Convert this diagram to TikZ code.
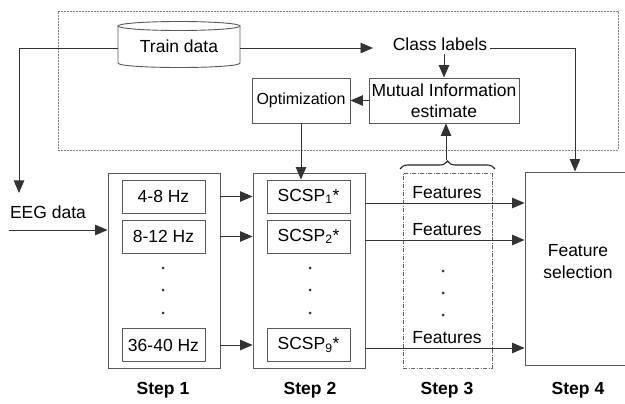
\documentclass[tikz,border=0pt]{standalone}
\usepackage{fontspec}
\setmainfont{Liberation Sans}
\usetikzlibrary{arrows.meta,decorations.pathreplacing,calc}
\begin{document}
\begin{tikzpicture}[x=1pt,y=-1pt,
  font=\fontsize{17.5}{21}\selectfont,
  ln/.style={draw=black!80, line width=0.9pt},
  arr/.style={ln, -{Triangle[length=12.5pt,width=10.5pt]}},
  bx/.style={draw=black!65, line width=0.9pt, inner sep=0pt},
  dotm/.style={fill=black!80},
  steplbl/.style={font=\fontsize{17.5}{21}\selectfont\bfseries}]
\clip (0,0) rectangle (625,404);
\fill[white] (0,0) rectangle (625,404);

% outer dashed region
\node[draw=black!50, line width=0.7pt, dash pattern=on 2pt off 1pt,
      minimum width=560, minimum height=139, inner sep=0pt] (outer) at (338,80.5) {};

% Train data cylinder
\node[minimum width=122, minimum height=46, inner sep=0pt] (train) at (179,46) {Train data};
\draw[black!65, line width=0.9pt] (179,26) ellipse [x radius=61, y radius=4.5];
\draw[black!65, line width=0.9pt] (118,26) -- (118,63) .. controls (118,69) and (240,69) .. (240,63) -- (240,26);

% Class labels
\node[inner sep=3pt] (cls) at (440,44) {Class labels};

% Mutual information and optimization
\node[bx, minimum width=150, minimum height=45, align=center] (mi) at (444,100.5) {Mutual Information\\estimate};
\node[bx, minimum width=98, minimum height=45, font=\fontsize{16}{19}\selectfont] (opt) at (301,100.5) {Optimization};

% Step 1
\node[bx, minimum width=112, minimum height=195] (s1) at (164,270.5) {};
\node[bx, minimum width=83, minimum height=33] (f1) at (163.5,196.5) {4-8 Hz};
\node[bx, minimum width=83, minimum height=33] (f2) at (163.5,236.5) {8-12 Hz};
\node[bx, minimum width=83, minimum height=33] (f9) at (163.5,345) {36-40 Hz};
\fill[dotm] (163,268) circle (1.5) (163,290) circle (1.5) (163,313) circle (1.5);

% Step 2
\node[bx, minimum width=112, minimum height=195] (s2) at (309,270.5) {};
\node[bx, minimum width=83, minimum height=33] (sc1) at (308.5,196.5) {SCSP\textsubscript{1}*};
\node[bx, minimum width=83, minimum height=33] (sc2) at (308.5,236.5) {SCSP\textsubscript{2}*};
\node[bx, minimum width=83, minimum height=33] (sc9) at (308.5,345) {SCSP\textsubscript{9}*};
\fill[dotm] (310,268) circle (1.5) (310,290) circle (1.5) (310,313) circle (1.5);

% Step 3
\node[draw=black!60, line width=0.8pt, dash pattern=on 4pt off 1.5pt on 1pt off 1.5pt,
      minimum width=89, minimum height=195, inner sep=0pt] (s3) at (447.5,270.5) {};
\node[anchor=south, inner sep=4pt] (ft1) at (447,203) {Features};
\node[anchor=south, inner sep=4pt] (ft2) at (447,240) {Features};
\node[anchor=south, inner sep=4pt] (ft9) at (447,348) {Features};
\fill[dotm] (443,271) circle (1.5) (443,293) circle (1.5) (443,315) circle (1.5);

% Step 4
\node[bx, minimum width=106, minimum height=193] (fs) at (578,268.5) {};
\node[align=center, font=\fontsize{17.5}{22}\selectfont] (fstext) at (578,262) {Feature\\selection};

% EEG data
\node (eeg) at (48,212) {EEG data};

% coordinates
\coordinate (c1) at (19,48);
\coordinate (c2) at (19,193);
\coordinate (c3) at (9,230);
\coordinate (c4) at (575,48);
\coordinate (ca) at (373,48);
\coordinate (bt) at (446,160);

% connectors
\draw[arr] (train.west |- c1) -- (c1) -- (c2);
\draw[arr] (c3) -- (c3 -| s1.west);
\draw[arr] (train.east |- ca) -- (ca);
\draw[arr] (cls.east |- c4) -- (c4) -- (c4 |- fs.north);
\draw[arr] (mi.north |- cls.south) -- (mi.north);
\draw[arr] (mi.west) -- (opt.east);
\draw[arr] (opt.south) -- (opt.south |- sc1.north);

\draw[arr] (f1.east -| s1.east) -- (f1.east -| s2.west);
\draw[arr] (f2.east -| s1.east) -- (f2.east -| s2.west);
\draw[arr] (f9.east -| s1.east) -- (f9.east -| s2.west);

\draw[arr] (s2.east |- ft1.south) -- (fs.west |- ft1.south);
\draw[arr] (s2.east |- ft2.south) -- (fs.west |- ft2.south);
\draw[arr] (s2.east |- ft9.south) -- (fs.west |- ft9.south);

% brace
\draw[black!85, line width=1.1pt, decorate, decoration={brace, amplitude=8pt}] (400,169) -- (495,169);
\draw[arr] (bt) -- (bt |- mi.south);

% step labels
\node[steplbl] (st1) at (163,390) {Step 1};
\node[steplbl] (st2) at (310,390) {Step 2};
\node[steplbl] (st3) at (447,390) {Step 3};
\node[steplbl] (st4) at (578,390) {Step 4};
\end{tikzpicture}
\end{document}
